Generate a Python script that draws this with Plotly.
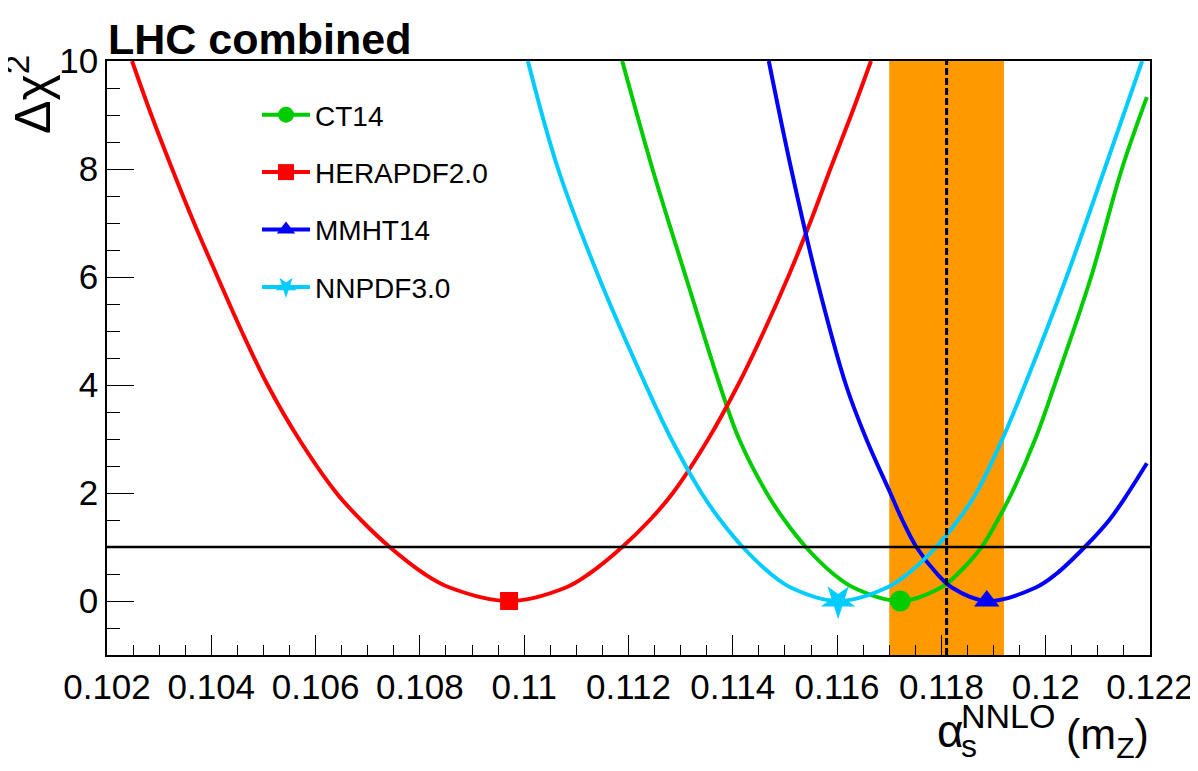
import plotly.graph_objects as go

# ---- data (alpha_s, delta chi^2) ----
her_x = [0.10248, 0.10285, 0.10325, 0.10367, 0.10412, 0.10458, 0.10508, 0.10568, 0.10640, 0.10687, 0.10742,
         0.10809, 0.10857, 0.10971, 0.11080, 0.11124, 0.11188, 0.11241, 0.11285, 0.11353, 0.11410, 0.11460,
         0.11506, 0.11548, 0.11587, 0.11627, 0.11665]
her_y = [10, 9, 8, 7, 6, 5, 4, 3, 2, 1.5, 1, 0.5, 0.25, 0, 0.25, 0.5, 1, 1.5, 2, 3, 4, 5, 6, 7, 8, 9, 10]

nn_x = [0.11007, 0.11065, 0.11143, 0.11233, 0.11282, 0.11340, 0.11376, 0.11419, 0.11473, 0.11511, 0.11602,
        0.11696, 0.11735, 0.11790, 0.11832, 0.11867, 0.11917, 0.11960, 0.12040, 0.12113, 0.12185]
nn_y = [10, 8, 6, 4, 3, 2, 1.5, 1, 0.5, 0.25, 0, 0.25, 0.5, 1, 1.5, 2, 3, 4, 6, 8, 10]

ct_x = [0.11188, 0.11246, 0.11310, 0.11375, 0.11412, 0.11465, 0.11499, 0.11540, 0.11593, 0.11631, 0.11721,
        0.11799, 0.11831, 0.11877, 0.11908, 0.11935, 0.11980, 0.12017, 0.12087, 0.12146, 0.12194]
ct_y = [10, 8, 6, 4, 3, 2, 1.5, 1, 0.5, 0.25, 0, 0.25, 0.5, 1, 1.5, 2, 3, 4, 6, 8, 9.33]

mm_x = [0.11469, 0.11512, 0.11560, 0.11617, 0.11656, 0.11702, 0.11725, 0.11752, 0.11792, 0.11820, 0.11887,
        0.11981, 0.12020, 0.12075, 0.12122, 0.12158, 0.12194]
mm_y = [10, 8, 6, 4, 3, 2, 1.5, 1, 0.5, 0.25, 0, 0.25, 0.5, 1, 1.5, 2, 2.55]

band_lo, band_hi = 0.1170, 0.1192
central = 0.1181
ref_level = 1.0

x_range = [0.102, 0.122]
y_range = [-1, 10]
x_tickvals = [0.102, 0.104, 0.106, 0.108, 0.110, 0.112, 0.114, 0.116, 0.118, 0.120, 0.122]
x_ticktext = ["0.102", "0.104", "0.106", "0.108", "0.11", "0.112", "0.114", "0.116", "0.118", "0.12", "0.122"]
y_tickvals = [0, 2, 4, 6, 8, 10]

series = [
    ("CT14", ct_x, ct_y, "#00cc00", "circle", 21, 0),
    ("HERAPDF2.0", her_x, her_y, "#ff0000", "square", 18, 0),
    ("MMHT14", mm_x, mm_y, "#0000ff", "triangle-up", 22, 0),
    ("NNPDF3.0", nn_x, nn_y, "#00ccff", "star", 26, 180),
]

FONT = "Liberation Sans, Arial, Helvetica, sans-serif"

fig = go.Figure()

for name, xs, ys, col, sym, sz, ang in series:
    fig.add_trace(go.Scatter(x=xs, y=ys, mode="lines", line=dict(color=col, width=4, shape="spline", smoothing=1.0),
                             showlegend=False, hoverinfo="skip"))

for name, xs, ys, col, sym, sz, ang in series:
    i = ys.index(min(ys))
    fig.add_trace(go.Scatter(x=[xs[i]], y=[ys[i]], mode="markers",
                             marker=dict(color=col, symbol=sym, size=sz, angle=ang),
                             showlegend=False, hoverinfo="skip"))

for k, (name, xs, ys, col, sym, sz, ang) in enumerate(series):
    fig.add_trace(go.Scatter(x=[None], y=[None], mode="lines+markers", name=name, legendgroup=str(k),
                             line=dict(color=col, width=4),
                             marker=dict(color=col, symbol=sym, size=16, angle=ang)))

fig.add_shape(type="rect", xref="x", yref="y", x0=band_lo, x1=band_hi, y0=y_range[0], y1=y_range[1],
              fillcolor="#ff9900", line=dict(width=0), layer="below")
fig.add_shape(type="line", xref="x", yref="y", x0=x_range[0], x1=x_range[1], y0=ref_level, y1=ref_level,
              line=dict(color="black", width=2.5))
fig.add_shape(type="line", xref="x", yref="y", x0=central, x1=central, y0=y_range[0], y1=y_range[1],
              line=dict(color="black", width=3, dash="7px,3px"))

# window-pixel layout (page body has an 8px default margin)
OFF = 8
WIN_W, WIN_H = 1198, 771
PL, PR, PT, PB = 107, 1150, 61, 655  # plot area in window pixels
W, H = WIN_W, WIN_H
L = PL - OFF
T = PT - OFF
R = W - L - (PR - PL)
B = H - T - (PB - PT)

def px(xp):
    return (xp - PL) / (PR - PL)

def py(yp):
    return (PB - yp) / (PB - PT)

ann = []
ann.append(dict(text="<b>LHC combined</b>", xref="paper", yref="paper", x=px(106), y=py(65),
                xanchor="left", yanchor="bottom", showarrow=False, font=dict(size=43, color="black", family=FONT)))
ann.append(dict(text="Δχ<sup>2</sup>", xref="paper", yref="paper", x=px(29), y=py(95), textangle=-90,
                xanchor="center", yanchor="middle", showarrow=False, font=dict(size=50, color="black", family=FONT)))
# x-axis title pieces
ann.append(dict(text="α", xref="paper", yref="paper", x=px(935), y=py(731), xanchor="left", yanchor="middle",
                showarrow=False, font=dict(size=46, color="black", family=FONT)))
ann.append(dict(text="NNLO", xref="paper", yref="paper", x=px(959), y=py(716), xanchor="left", yanchor="middle",
                showarrow=False, font=dict(size=34, color="black", family=FONT)))
ann.append(dict(text="s", xref="paper", yref="paper", x=px(959), y=py(746), xanchor="left", yanchor="middle",
                showarrow=False, font=dict(size=32, color="black", family=FONT)))
ann.append(dict(text="(m<sub>Z</sub>)", xref="paper", yref="paper", x=px(1151), y=py(737), xanchor="right",
                yanchor="middle", showarrow=False, font=dict(size=43, color="black", family=FONT)))

fig.update_layout(
    width=W, height=H,
    margin=dict(l=L, r=R, t=T, b=B, pad=0),
    paper_bgcolor="white", plot_bgcolor="white",
    font=dict(family=FONT, color="black"),
    annotations=ann,
    legend=dict(x=px(257), y=py(90), xanchor="left", yanchor="top", bgcolor="rgba(0,0,0,0)",
                font=dict(size=28, color="black", family=FONT), tracegroupgap=18,
                traceorder="grouped", itemwidth=48),
)

fig.update_xaxes(range=x_range, tickvals=x_tickvals, ticktext=x_ticktext, ticks="inside", ticklen=20,
                 tickwidth=1.3, tickcolor="black", showgrid=False, zeroline=False,
                 showline=True, linecolor="black", linewidth=1.5, mirror=True,
                 tickfont=dict(size=35, family=FONT, color="black"),
                 minor=dict(dtick=0.0005, tick0=0.102, ticks="inside", ticklen=10, tickcolor="black", tickwidth=1.3, showgrid=False))
fig.update_yaxes(range=y_range, tickvals=y_tickvals, ticks="inside", ticklen=27,
                 tickwidth=1.3, tickcolor="black", showgrid=False, zeroline=False,
                 showline=True, linecolor="black", linewidth=1.5, mirror=True,
                 tickfont=dict(size=35, family=FONT, color="black"),
                 minor=dict(dtick=0.5, tick0=0, ticks="inside", ticklen=13, tickcolor="black", tickwidth=1.3, showgrid=False))

fig.write_html("out.html", config={"displayModeBar": False})
